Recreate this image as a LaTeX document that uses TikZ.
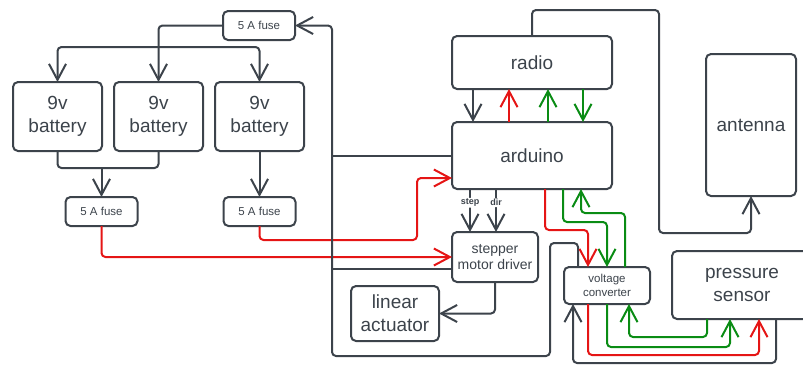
\documentclass[tikz,border=0pt]{standalone}
\usepackage{fontspec}
\setmainfont{Liberation Sans}
\usepackage{xcolor}
\usepackage{tikz}
\usetikzlibrary{arrows.meta,positioning,calc}
\definecolor{linegray}{HTML}{3C434B}
\definecolor{wirered}{HTML}{E51515}
\definecolor{wiregreen}{HTML}{0A8C14}

\begin{document}
\begin{tikzpicture}[
  x=1pt, y=-1pt,
  >={Straight Barb[length=16pt,width=17pt]},
  line width=2pt,
  box/.style={draw=linegray, rounded corners=5pt, inner sep=0pt, outer sep=0pt,
              align=center, text=linegray},
  bigbox/.style={box, font=\fontsize{19}{23}\selectfont},
  battbox/.style={bigbox, minimum width=89pt, minimum height=69pt},
  fusebox/.style={box, minimum width=72pt, minimum height=29pt,
                  font=\fontsize{11.5}{14}\selectfont},
  smallbox/.style={box, minimum width=86pt},
  wire/.style={draw=linegray, rounded corners=4pt},
  arrow/.style={wire, ->},
  redarrow/.style={arrow, draw=wirered},
  greenarrow/.style={arrow, draw=wiregreen},
  pinlabel/.style={font=\bfseries\fontsize{9}{10}\selectfont, text=linegray,
                   fill=white, inner sep=1pt},
]
\useasboundingbox (0,0) rectangle (803,365);

\node[fusebox] (fuseTop) at (259,25.5) {5 A fuse};
\node[battbox] (bat1) at (57.5,116.5) {9v\\battery};
\node[battbox, right=12pt of bat1] (bat2) {9v\\battery};
\node[battbox, right=12pt of bat2] (bat3) {9v\\battery};
\node[fusebox] (fuseL) at (101.5,211.5) {5 A fuse};
\node[fusebox, below=46pt of bat3] (fuseR) {5 A fuse};

\node[bigbox, minimum width=160pt, minimum height=53pt] (radio) at (532,62.5) {radio};
\node[bigbox, minimum width=160pt, minimum height=67pt, below=33pt of radio] (arduino) {arduino};
\node[bigbox, minimum width=90pt, minimum height=142pt] (antenna) at (751,125) {antenna};
\node[smallbox, minimum height=50pt, font=\fontsize{14}{16}\selectfont] (stepper) at (495,257)
  {stepper\\motor driver};
\node[bigbox, minimum width=88pt, minimum height=55pt] (actuator) at (395,313.5) {linear\\actuator};
\node[smallbox, minimum height=37pt, font=\fontsize{11.5}{14}\selectfont] (vconv) at (607,285.5)
  {voltage\\converter};
\node[bigbox, minimum width=140pt, minimum height=68pt] (pressure) at (742,285) {pressure\\sensor};

% battery pack
\coordinate (split) at ($(bat2.north)+(0,-35)$);
\coordinate (merge) at ($(fuseL.north)+(0,-29)$);
\draw[arrow] (fuseTop.west) -| (bat2.north);
\draw[arrow] (split) -| (bat1.north);
\draw[arrow] (split) -| (bat3.north);
\draw[wire] (bat1.south) |- (merge) -| (bat2.south);
\draw[arrow] (merge) -- (fuseL.north);
\draw[arrow] (bat3.south) -- (fuseR.north);

% supply lines
\coordinate (redTurn) at (417,240);
\draw[redarrow] (fuseL.south) |- (stepper.west);
\draw[redarrow] (fuseR.south) |- (redTurn) |- ($(arduino.west)+(0,22.5)$);

% ground return
\coordinate (gndIn) at ($(vconv.north west)+(14,0)$);
\coordinate (gndLoop) at (550,243);
\coordinate (gndLow) at (332,356);
\coordinate (stepGnd) at ($(stepper.west)+(0,12)$);
\draw[arrow] (gndIn) |- (gndLoop) |- (gndLow) |- (fuseTop.east);
\draw[wire] (arduino.west) -- (arduino.west -| gndLow);
\draw[wire] (stepGnd) -- (stepGnd -| gndLow);

% radio link
\draw[arrow] ($(radio.south west)+(21,0)$) -- ($(arduino.north west)+(21,0)$);
\draw[redarrow] ($(arduino.north west)+(57,0)$) -- ($(radio.south west)+(57,0)$);
\draw[greenarrow] ($(arduino.north west)+(96,0)$) -- ($(radio.south west)+(96,0)$);
\draw[greenarrow] ($(radio.south west)+(131,0)$) -- ($(arduino.north west)+(131,0)$);

\coordinate (antTop) at (659,10);
\coordinate (antTurn) at (659,233);
\draw[arrow] (radio.north) |- (antTop) -- (antTurn) -| (antenna.south);

% motor
\draw[arrow] ($(arduino.south west)+(18,0)$) -- node[pinlabel, pos=0.32] {step} ($(stepper.north west)+(18,0)$);
\draw[arrow] ($(arduino.south west)+(44,0)$) -- node[pinlabel, pos=0.32] {dir} ($(stepper.north west)+(44,0)$);
\draw[arrow] (stepper.south) |- (actuator.east);

% converter and sensor
\draw[redarrow] ($(arduino.south west)+(93,0)$) |- ($(vconv.north west)+(24,-37)$) -- ($(vconv.north west)+(24,0)$);
\draw[greenarrow] ($(arduino.south west)+(111,0)$) |- ($(vconv.north)+(0,-45)$) -- (vconv.north);
\draw[greenarrow] ($(vconv.north west)+(61,0)$) |- ($(arduino.south west)+(129,24)$) -- ($(arduino.south west)+(129,0)$);

\draw[redarrow] ($(vconv.south west)+(24,0)$) |- ($(pressure.south west)+(87,36)$) -- ($(pressure.south west)+(87,0)$);
\draw[greenarrow] (vconv.south) |- ($(pressure.south west)+(58,28)$) -- ($(pressure.south west)+(58,0)$);
\draw[greenarrow] ($(pressure.south west)+(35,0)$) |- ($(vconv.south west)+(65,33)$) -- ($(vconv.south west)+(65,0)$);
\draw[arrow] ($(pressure.south west)+(104,0)$) |- ($(vconv.south west)+(9,59)$) -- ($(vconv.south west)+(9,0)$);

\end{tikzpicture}
\end{document}
